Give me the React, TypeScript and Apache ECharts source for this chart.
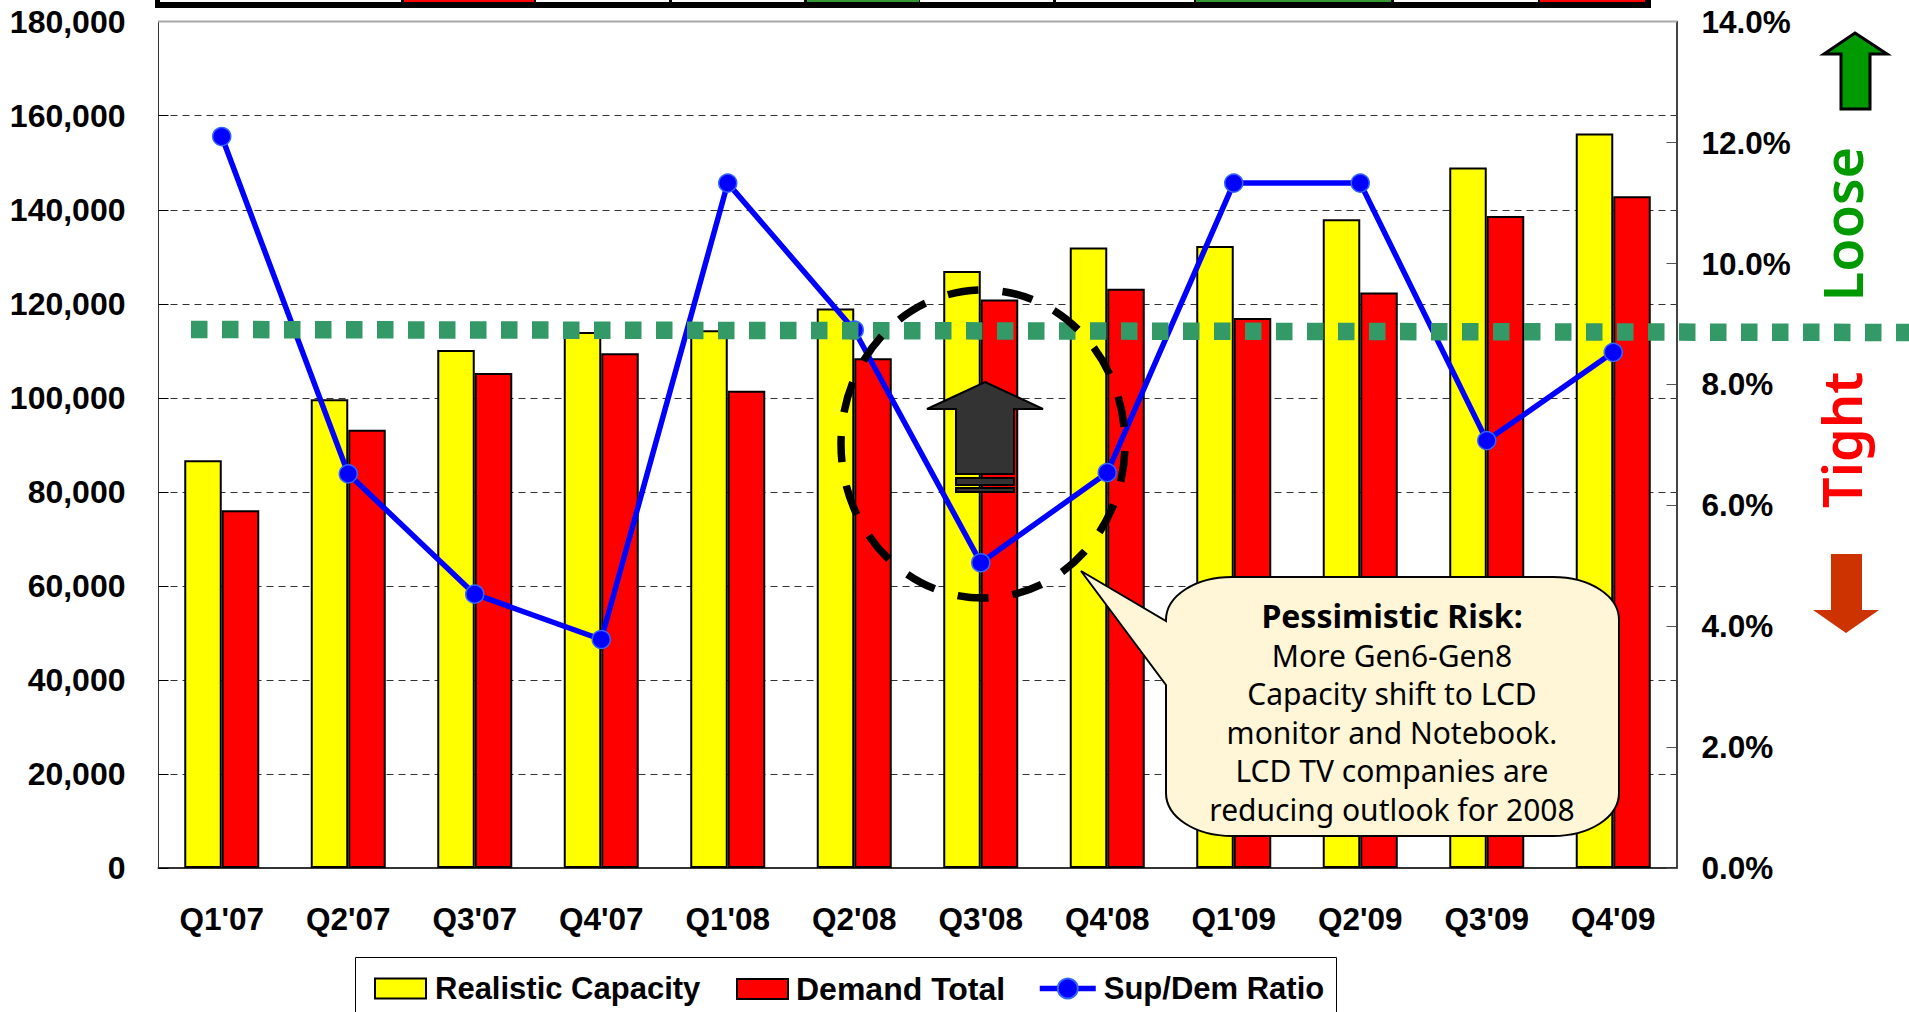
import React, { useEffect, useRef } from "react";
import * as echarts from "echarts";

const categories = ["Q1'07","Q2'07","Q3'07","Q4'07","Q1'08","Q2'08","Q3'08","Q4'08","Q1'09","Q2'09","Q3'09","Q4'09"];
const realisticCapacity = [86700,99700,110200,114000,114400,119000,127000,132000,132300,138000,149000,156200];
const demandTotal = [76100,93200,105300,109500,101500,108400,120900,123200,117000,122400,138700,142900];
const supDemRatio = [12.1,6.52,4.53,3.78,11.33,8.9,5.05,6.54,11.33,11.33,7.07,8.53];
const calloutLines = ["More Gen6-Gen8","Capacity shift to LCD","monitor and Notebook.","LCD TV companies are","reducing outlook for 2008"];
const ARIAL = '"Liberation Sans", Arial, sans-serif';
const TAHOMA = '"Noto Sans", sans-serif';

echarts.graphic.registerShape("calloutBox", echarts.graphic.extendPath(
  "M1232,577 L1553,577 C1590,577 1619,596 1619,620 L1619,793 C1619,817 1590,836 1553,836 L1232,836 C1195,836 1166,817 1166,793 L1166,685 L1081,571 L1166,621 L1166,620 C1166,596 1195,577 1232,577 Z", {}));

const stripCells: [number, number, string][] = [
  [160,401,"#fff"],[404,534,"#f00"],[536,669,"#fff"],[672,804,"#fff"],[807,919,"#339933"],
  [920,1053,"#fff"],[1056,1194,"#fff"],[1196,1391,"#339933"],[1394,1538,"#fff"],[1540,1645,"#f00"],
];

const legendBase = (left: number, name: string, fontSize: number, itemWidth: number, itemHeight: number, pad: number, icon?: string) => ({
  left, top: 973, itemWidth, itemHeight, padding: 0,
  lineStyle: { width: 5.5, color: "#0000FF" },
  textStyle: { fontFamily: ARIAL, fontWeight: "bold", fontSize, color: "#000", padding: [0, 0, 0, pad] },
  data: [icon ? { name, icon } : { name }],
});

export default function App() {
  const ref = useRef<HTMLDivElement>(null);
  useEffect(() => {
    document.body.style.margin = "0";
    document.body.style.overflow = "hidden";
    const chart = echarts.init(ref.current!, undefined, { renderer: "svg" });
    const graphics: any[] = [
      { type: "rect", z: 1, shape: { x: 155, y: -2, width: 1496, height: 10 }, style: { fill: "#000" } },
      ...stripCells.map(([a, b, c]) => ({ type: "rect", z: 2, shape: { x: a, y: -2, width: b - a, height: 4 }, style: { fill: c } })),
      { type: "line", z: 3, shape: { x1: 158, y1: 21.5, x2: 1677, y2: 21.5 }, style: { stroke: "#a8a8a8", lineWidth: 2 } },
      { type: "rect", z: 1, shape: { x: 355.5, y: 957.5, width: 981, height: 80 }, style: { fill: "#fff", stroke: "#000", lineWidth: 1 } },
      { type: "line", z: 20, shape: { x1: 191, y1: 329.5, x2: 1909, y2: 332.5 }, style: { stroke: "#339966", lineWidth: 17.5, lineDash: [16.5, 14.5] } },
      { type: "ellipse", z: 21, shape: { cx: 983, cy: 444, rx: 142, ry: 154 }, style: { fill: "none", stroke: "#000", lineWidth: 7.5, lineDash: [31, 24], lineDashOffset: 23 } },
      { type: "polygon", z: 22, shape: { points: [[985,382],[1043,409],[1014,409],[1014,474],[956,474],[956,409],[927,409]] }, style: { fill: "#333333", stroke: "#000", lineWidth: 2 } },
      { type: "rect", z: 22, shape: { x: 956, y: 478, width: 58, height: 7 }, style: { fill: "#333333", stroke: "#000", lineWidth: 2 } },
      { type: "rect", z: 22, shape: { x: 956, y: 488, width: 58, height: 4 }, style: { fill: "#333333", stroke: "#000", lineWidth: 2 } },
      { type: "calloutBox", z: 23, x: 0, y: 0, style: { fill: "#FFF5D7", stroke: "#000", lineWidth: 2 } },
      { type: "text", z: 24, x: 1392, y: 615.5, style: { text: "Pessimistic Risk:", font: `bold 32px ${TAHOMA}`, fill: "#000", align: "center", verticalAlign: "middle" } },
      ...calloutLines.map((t, i) => ({ type: "text", z: 24, x: 1392, y: 655 + i * 38.5, style: { text: t, font: `30px ${TAHOMA}`, fill: "#000", align: "center", verticalAlign: "middle" } })),
      { type: "polygon", z: 10, shape: { points: [[1855,33],[1887,54],[1870,54],[1870,109],[1841,109],[1841,54],[1824,54]] }, style: { fill: "#009900", stroke: "#000", lineWidth: 3 } },
      { type: "polygon", z: 10, shape: { points: [[1831,554],[1862,554],[1862,610],[1879,610],[1846,633],[1813,610],[1831,610]] }, style: { fill: "#CC3300" } },
      { type: "text", z: 10, x: 1842, y: 224, rotation: Math.PI / 2, style: { text: "Loose", font: `600 54px ${TAHOMA}`, fill: "#009900", align: "center", verticalAlign: "middle" } },
      { type: "text", z: 10, x: 1841, y: 440, rotation: Math.PI / 2, style: { text: "Tight", font: `600 54px ${TAHOMA}`, fill: "#FF0000", align: "center", verticalAlign: "middle" } },
    ];
    chart.setOption({
      animation: false,
      backgroundColor: "#fff",
      grid: { left: 158.5, right: 232.5, top: 21.7, bottom: 144, containLabel: false },
      legend: [
        legendBase(374, "Realistic Capacity", 31, 51, 20, 4, "rect"),
        legendBase(736, "Demand Total", 32, 51, 20, 3, "rect"),
        legendBase(1037, "Sup/Dem Ratio", 31, 56, 25, 3),
      ],
      xAxis: {
        type: "category", data: categories,
        axisLine: { lineStyle: { color: "#333", width: 2 } },
        axisTick: { inside: true, length: 10, lineStyle: { color: "#333", width: 1 } },
        axisLabel: { fontFamily: ARIAL, fontWeight: "bold", fontSize: 31.5, color: "#000", margin: 35 },
      },
      yAxis: [
        {
          type: "value", min: 0, max: 180000, interval: 20000,
          axisLine: { show: true, lineStyle: { color: "#333", width: 1 } },
          axisTick: { show: true, inside: true, length: 10, lineStyle: { color: "#000" } },
          axisLabel: { fontFamily: ARIAL, fontWeight: "bold", fontSize: 32, color: "#000", margin: 33, padding: [2, 0, 0, 0], formatter: (v: number) => v.toLocaleString("en-US") },
          splitLine: { show: true, showMaxLine: false, lineStyle: { color: "#333", width: 1, type: [7, 5] } },
        },
        {
          type: "value", min: 0, max: 14, interval: 2, position: "right",
          axisLine: { show: true, lineStyle: { color: "#444", width: 2 } },
          axisTick: { show: true, inside: true, length: 10, lineStyle: { color: "#555" } },
          axisLabel: { fontFamily: ARIAL, fontWeight: "bold", fontSize: 31.5, color: "#000", margin: 25, padding: [2, 0, 0, 0], formatter: (v: number) => v.toFixed(1) + "%" },
          splitLine: { show: false },
        },
      ],
      series: [
        { name: "Realistic Capacity", type: "bar", data: realisticCapacity, barWidth: 37.5, barGap: 0, itemStyle: { color: "#FFFF00", borderColor: "#000", borderWidth: 2 } },
        { name: "Demand Total", type: "bar", data: demandTotal, barWidth: 37.5, barGap: 0, itemStyle: { color: "#FF0000", borderColor: "#000", borderWidth: 2 } },
        {
          name: "Sup/Dem Ratio", type: "line", yAxisIndex: 1, data: supDemRatio, symbol: "circle", symbolSize: 18, z: 5,
          lineStyle: { color: "#0000FF", width: 5.5 },
          itemStyle: { color: "#0000FF", borderColor: "#3366FF", borderWidth: 1.5 },
        },
      ],
      graphic: { elements: graphics },
    });
    return () => chart.dispose();
  }, []);
  return <div ref={ref} style={{ position: "fixed", left: 0, top: 0, width: 1909, height: 1012 }} />;
}
